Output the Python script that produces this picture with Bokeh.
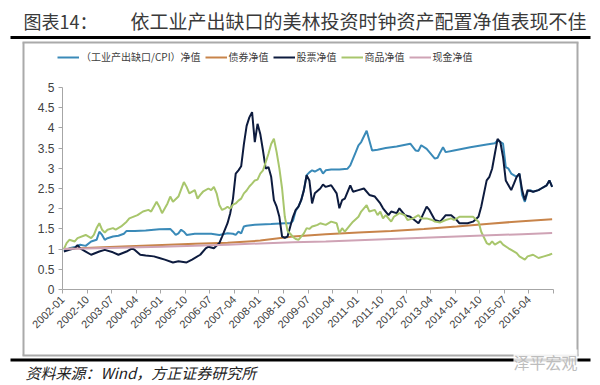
import numpy as np
from bokeh.plotting import figure
from bokeh.models import (Label, BoxAnnotation, Legend, LegendItem, FixedTicker,
                          NumeralTickFormatter, Range1d)
from bokeh.embed import file_html
from bokeh.resources import INLINE

# ---------------- data (months counted from 2002-01 = 0) ----------------
tick_labels = ["2002-01", "2002-10", "2003-07", "2004-04", "2005-01", "2005-10",
               "2006-07", "2007-04", "2008-01", "2008-10", "2009-07", "2010-04",
               "2011-01", "2011-10", "2012-07", "2013-04", "2014-01", "2014-10",
               "2015-07", "2016-04"]

clock_m = [0, 1, 2, 4, 6, 8, 10, 12, 13, 14, 15, 16, 18, 20, 22, 23, 26, 30, 35, 39,
           40, 41, 42, 43, 44, 45, 48, 54, 57, 60, 62, 63, 64, 65, 66, 67, 70, 76, 81,
           83, 84, 85, 86, 87, 88, 89, 90, 91, 92, 94, 95, 96, 98, 101, 104, 105, 107,
           108, 109, 111, 113, 115, 118, 122, 127, 129, 130, 131, 133, 134, 136, 137,
           138, 139, 140, 143, 149, 155, 158, 159, 161, 162, 163, 164, 166, 167, 168,
           169, 170, 171, 172, 174, 175, 177, 178, 179]
clock_v = [0.97, 0.98, 1.02, 1.05, 1.11, 1.08, 1.19, 1.23, 1.43, 1.35, 1.23, 1.27, 1.31,
           1.33, 1.38, 1.45, 1.45, 1.46, 1.49, 1.50, 1.43, 1.35, 1.39, 1.48, 1.43, 1.35,
           1.38, 1.38, 1.35, 1.39, 1.38, 1.35, 1.43, 1.39, 1.56, 1.58, 1.60, 1.62, 1.64,
           1.64, 1.70, 1.95, 2.05, 2.21, 2.46, 2.83, 2.90, 2.95, 2.92, 2.99, 2.87, 2.95,
           2.97, 2.97, 2.99, 3.07, 3.40, 3.57, 3.65, 3.93, 3.44, 3.46, 3.50, 3.54, 3.61,
           3.44, 3.43, 3.57, 3.48, 3.40, 3.24, 3.26, 3.40, 3.52, 3.40, 3.44, 3.52, 3.59,
           3.62, 3.69, 3.61, 3.03, 2.99, 2.87, 2.79, 2.87, 2.34, 2.17, 2.42, 2.46, 2.42,
           2.46, 2.50, 2.58, 2.70, 2.54]

bond_m = [0, 12, 24, 36, 48, 60, 72, 84, 96, 108, 120, 132, 144, 156, 168, 179]
bond_v = [1.00, 1.04, 1.07, 1.10, 1.13, 1.16, 1.21, 1.31, 1.37, 1.41, 1.45, 1.50,
          1.56, 1.63, 1.69, 1.74]

stock_m = [0, 2, 4, 5, 6, 8, 10, 13, 15, 18, 20, 23, 25, 26, 28, 30, 33, 35, 37, 40,
           42, 45, 47, 50, 52, 53, 55, 57, 58, 60, 61, 62, 63, 64, 65, 66, 67, 68, 69,
           70, 71, 72, 73, 74, 75, 76, 77, 78, 79, 80, 81, 82, 83, 84, 85, 86, 87, 88,
           89, 90, 91, 92, 94, 95, 96, 98, 100, 101, 102, 103, 105, 106, 108, 110, 112,
           114, 116, 117, 119, 120, 122, 123, 125, 127, 130, 131, 133, 134, 136, 138,
           140, 142, 144, 145, 148, 150, 152, 153, 155, 156, 157, 158, 159, 160, 161,
           162, 164, 165, 166, 167, 168, 169, 170, 172, 174, 175, 177, 178, 179]
stock_v = [0.94, 0.98, 1.02, 1.10, 1.02, 0.94, 0.86, 0.94, 0.98, 0.92, 0.86, 0.94, 1.02,
           0.98, 0.86, 0.84, 0.82, 0.78, 0.74, 0.67, 0.70, 0.67, 0.74, 0.86, 1.02, 1.06,
           1.02, 1.15, 1.31, 1.64, 1.89, 2.25, 2.87, 2.95, 3.05, 3.60, 4.05, 4.26, 4.39,
           3.65, 4.10, 3.85, 3.44, 2.99, 3.03, 2.79, 2.21, 2.05, 1.80, 1.31, 1.28, 1.31,
           1.56, 1.80, 1.97, 2.05, 2.21, 2.46, 2.83, 2.70, 2.13, 2.38, 2.50, 2.60, 2.54,
           2.58, 2.38, 2.01, 2.21, 2.25, 2.58, 2.42, 2.46, 2.50, 2.34, 2.30, 2.13, 2.01,
           1.84, 1.93, 1.89, 2.01, 1.84, 1.80, 1.64, 1.76, 2.05, 1.97, 1.72, 1.68, 1.84,
           1.84, 1.72, 1.64, 1.64, 1.68, 1.80, 2.05, 2.70, 2.79, 2.99, 3.36, 3.73, 3.65,
           3.28, 2.70, 2.46, 2.62, 2.79, 2.87, 2.46, 2.21, 2.46, 2.42, 2.46, 2.50, 2.58,
           2.70, 2.54]

comm_m = [0, 1, 2, 4, 5, 8, 10, 11, 12, 13, 14, 15, 16, 18, 19, 21, 23, 24, 27, 29, 31,
          32, 34, 35, 36, 38, 39, 40, 42, 44, 45, 46, 48, 49, 50, 51, 53, 54, 55, 56, 57,
          58, 59, 60, 61, 62, 63, 64, 65, 66, 67, 68, 69, 70, 71, 72, 73, 74, 75, 76, 77,
          78, 79, 80, 81, 82, 83, 84, 85, 86, 87, 88, 89, 90, 91, 92, 93, 94, 96, 98,
          100, 101, 102, 103, 105, 106, 108, 109, 111, 112, 114, 115, 116, 117, 118, 120,
          121, 123, 125, 126, 128, 130, 131, 133, 135, 136, 138, 140, 142, 143, 145, 148,
          150, 152, 153, 155, 156, 157, 158, 160, 161, 163, 164, 166, 167, 169, 170, 172,
          174, 176, 178, 179]
comm_v = [1.00, 1.15, 1.23, 1.19, 1.27, 1.35, 1.27, 1.35, 1.52, 1.64, 1.48, 1.41, 1.48,
          1.52, 1.48, 1.56, 1.68, 1.76, 1.84, 1.93, 1.97, 1.93, 2.17, 2.05, 1.89, 2.13,
          2.30, 2.17, 2.30, 2.66, 2.54, 2.38, 2.46, 2.25, 2.34, 2.42, 2.50, 2.46, 2.54,
          2.38, 2.09, 1.97, 2.00, 2.05, 2.00, 2.10, 2.13, 2.20, 2.25, 2.38, 2.45, 2.55,
          2.62, 2.70, 2.72, 2.87, 2.95, 3.15, 3.36, 3.60, 3.73, 3.40, 3.00, 2.50, 1.80,
          1.45, 1.38, 1.30, 1.25, 1.23, 1.31, 1.39, 1.52, 1.50, 1.56, 1.58, 1.60, 1.64,
          1.60, 1.68, 1.64, 1.39, 1.52, 1.43, 1.60, 1.68, 1.80, 1.93, 2.09, 1.93, 1.97,
          1.84, 1.93, 1.76, 1.84, 1.68, 1.80, 1.89, 1.84, 1.72, 1.76, 1.84, 1.76, 1.76,
          1.72, 1.68, 1.66, 1.72, 1.76, 1.72, 1.80, 1.80, 1.80, 1.68, 1.43, 1.15, 1.11,
          1.19, 1.11, 1.19, 1.11, 1.02, 0.98, 0.90, 0.82, 0.74, 0.82, 0.86, 0.78, 0.82,
          0.86, 0.89]

cash_m = [0, 12, 24, 36, 48, 60, 72, 84, 96, 108, 120, 132, 144, 156, 168, 179]
cash_v = [1.00, 1.02, 1.04, 1.06, 1.08, 1.11, 1.14, 1.17, 1.19, 1.22, 1.25, 1.28, 1.31,
          1.34, 1.37, 1.40]

series_names = ["（工业产出缺口/CPI）净值", "债券净值", "股票净值", "商品净值", "现金净值"]
series_colors = ["#3A8AB8", "#C8844A", "#0D1B3E", "#A8C66C", "#CFA3B5"]

CJK = "Noto Sans CJK SC"
BOX_GRAY = "#AAAAAA"

# ---------------- geometry (pixels on the 600x385 canvas) ----------------
W, H = 600, 385
AX_LEFT, AX_RIGHT = 62, 553      # x pixel of month 0 and month 180
AX_BOTTOM, AX_TOP = 289, 87      # y pixel of value 0 and value 5
N_MONTHS, Y_MAX = 180, 5
ppx = (AX_RIGHT - AX_LEFT) / N_MONTHS
ppy = (AX_BOTTOM - AX_TOP) / Y_MAX
x_range = Range1d(-AX_LEFT / ppx, N_MONTHS + (W - AX_RIGHT) / ppx)
y_range = Range1d(-(H - AX_BOTTOM) / ppy, Y_MAX + AX_TOP / ppy)

# the frame fills the whole canvas; the axes are pinned inside it
p = figure(width=W, height=H, title=None, x_range=x_range, y_range=y_range,
           output_backend="svg", toolbar_location=None, min_border=0,
           min_border_left=0, min_border_right=0, min_border_top=0,
           min_border_bottom=0)
p.outline_line_color = None
p.xgrid.visible = False
p.ygrid.visible = False
p.background_fill_color = "white"
p.border_fill_color = "white"


def box(left, right, top, bottom, color):
    # filled rectangle given in page pixels (top-left origin)
    return BoxAnnotation(left=left, right=right, top=H - top, bottom=H - bottom,
                         left_units="screen", right_units="screen",
                         top_units="screen", bottom_units="screen",
                         fill_color=color, fill_alpha=1, line_color=None)


def label(x, y, text, **kw):
    return Label(x=x, y=H - y, x_units="screen", y_units="screen", text=text,
                 text_baseline="middle", **kw)


# grey frame around chart + legend, and the two black rules
p.add_layout(box(22, 24, 42, 355, BOX_GRAY))
p.add_layout(box(576, 578, 42, 355, BOX_GRAY))
p.add_layout(box(22, 578, 41, 43, BOX_GRAY))
p.add_layout(box(22, 578, 354, 356, BOX_GRAY))
p.add_layout(box(10, 590, 35.5, 38.5, "black"))
p.add_layout(box(10, 590, 358, 361, "black"))

all_m = [clock_m, bond_m, stock_m, comm_m, cash_m]
all_v = [clock_v, bond_v, stock_v, comm_v, cash_v]
renderers = []
for m, v, c in zip(all_m, all_v, series_colors):
    r = p.line(np.array(m) + 0.5, v, line_color=c, line_width=2)
    renderers.append(r)

for ax in (p.xaxis[0], p.yaxis[0]):
    ax.fixed_location = 0
    ax.axis_line_color = "#A6A6A6"
    ax.major_tick_line_color = "#A6A6A6"
    ax.minor_tick_line_color = None
    ax.major_tick_out = 4
    ax.major_tick_in = 0
    ax.major_label_text_color = "#404040"
    ax.major_label_text_font = "Liberation Sans"

p.xaxis.bounds = (0, N_MONTHS)
p.xaxis.ticker = FixedTicker(ticks=list(range(0, N_MONTHS + 1, 9)))
overrides = {i * 9: lab for i, lab in enumerate(tick_labels)}
overrides[N_MONTHS] = ""
p.xaxis.major_label_overrides = overrides
p.xaxis.major_label_orientation = np.pi / 4
p.xaxis.major_label_text_font_size = "11px"
p.xaxis.major_label_standoff = 4

p.yaxis.bounds = (0, Y_MAX)
p.yaxis.ticker = FixedTicker(ticks=[i * 0.5 for i in range(11)])
p.yaxis.formatter = NumeralTickFormatter(format="0.[0]")
p.yaxis.major_label_text_font_size = "12px"
p.yaxis.major_label_standoff = 4

legend = Legend(items=[LegendItem(label=n, renderers=[r]) for n, r in zip(series_names, renderers)],
                orientation="horizontal", location=(57, H - 64),
                label_text_font=CJK, label_text_font_size="10px",
                label_text_color="#404040", glyph_width=22, glyph_height=14,
                label_standoff=2, spacing=4, padding=0, margin=0,
                border_line_color=None, background_fill_alpha=0)
p.add_layout(legend, "center")

p.add_layout(label(23, 20, "图表14：", text_font=CJK, text_font_size="18px",
                   text_color="#3A3A3A"))
p.add_layout(label(130, 20, "依工业产出缺口的美林投资时钟资产配置净值表现不佳",
                   text_font=CJK, text_font_size="19px", text_color="#3A3A3A"))
p.add_layout(label(25, 372, "资料来源：Wind，方正证券研究所", text_font=CJK,
                   text_font_size="15px", text_font_style="italic", text_color="#222222"))
p.add_layout(label(513, 361, "泽平宏观", text_font=CJK, text_font_size="16px",
                   text_color="#BDBDBD", background_fill_color="white",
                   background_fill_alpha=0.85))

open("out.html", "w").write(file_html(p, INLINE))
